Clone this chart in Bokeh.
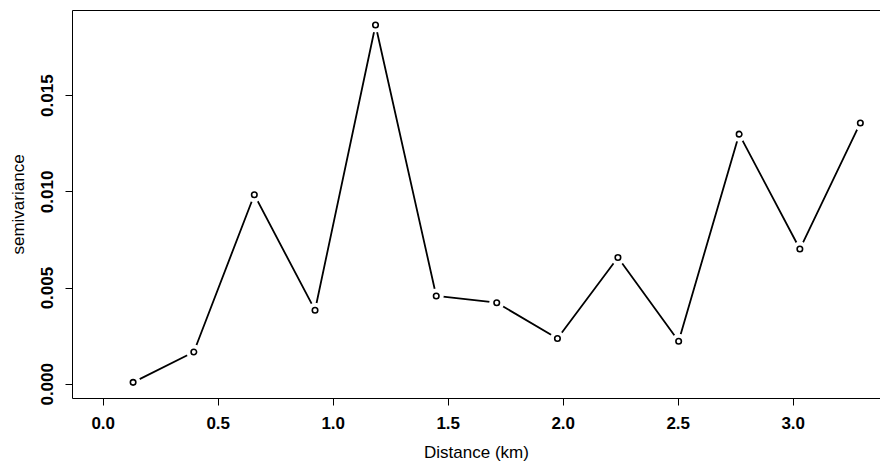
from bokeh.plotting import figure
from bokeh.models import FixedTicker, PrintfTickFormatter, LinearAxis, Range1d, ColumnDataSource
from bokeh.embed import file_html
from bokeh.resources import INLINE

# Data
distance_km = [0.130, 0.394, 0.657, 0.921, 1.184, 1.448, 1.711, 1.975, 2.238, 2.502, 2.765, 3.029, 3.292]
semivariance = [0.00010, 0.00168, 0.00985, 0.00385, 0.01867, 0.00459, 0.00424, 0.00238,
                0.00659, 0.00224, 0.01300, 0.00703, 0.01358]
x_ticks = [0.0, 0.5, 1.0, 1.5, 2.0, 2.5, 3.0]
y_ticks = [0.000, 0.005, 0.010, 0.015]

src = ColumnDataSource(data=dict(x=distance_km, y=semivariance))

p = figure(width=880, height=464, output_backend="svg", toolbar_location=None,
           x_range=Range1d(-0.1335, 3.3796), y_range=Range1d(-0.000739, 0.019426),
           min_border_left=72, min_border_right=0, min_border_top=10, min_border_bottom=64)
p.outline_line_color = None
p.xgrid.visible = False
p.ygrid.visible = False
p.background_fill_color = "white"
p.border_fill_color = "white"

# Line with gaps around points (type="b" look)
p.line("x", "y", source=src, line_color="black", line_width=1.8)
p.scatter("x", "y", source=src, size=15, fill_color="white", line_color=None)
p.scatter("x", "y", source=src, size=5.5, marker="circle", fill_color=None,
          line_color="black", line_width=1.6)

FONT = "Liberation Sans"

xa = p.xaxis[0]
xa.ticker = FixedTicker(ticks=x_ticks)
xa.formatter = PrintfTickFormatter(format="%.1f")
xa.axis_label = "Distance (km)"
ya = p.yaxis[0]
ya.ticker = FixedTicker(ticks=y_ticks)
ya.formatter = PrintfTickFormatter(format="%.3f")
ya.axis_label = "semivariance"
ya.major_label_orientation = "vertical"

for ax in (xa, ya):
    ax.axis_line_color = "black"
    ax.axis_line_width = 1
    ax.major_tick_line_color = "black"
    ax.major_tick_in = 0
    ax.major_tick_out = 7
    ax.minor_tick_line_color = None
    ax.major_label_text_font = FONT
    ax.major_label_text_font_style = "bold"
    ax.major_label_text_font_size = "17px"
    ax.major_label_text_color = "black"
    ax.axis_label_text_font = FONT
    ax.axis_label_text_font_style = "normal"
    ax.axis_label_text_font_size = "17px"
    ax.axis_label_text_color = "black"

xa.major_label_standoff = 11
xa.axis_label_standoff = 11
ya.major_label_standoff = 12
ya.axis_label_standoff = 11

top = LinearAxis(ticker=FixedTicker(ticks=[]), major_label_text_font_size="0px",
                 major_tick_out=0, major_tick_in=0, minor_tick_line_color=None,
                 axis_line_color="black", major_label_standoff=0)
p.add_layout(top, "above")

open("out.html", "w").write(file_html(p, INLINE))
